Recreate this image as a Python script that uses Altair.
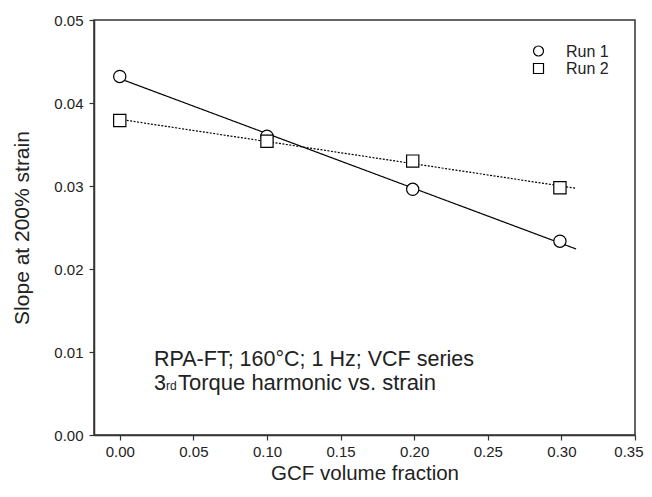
import altair as alt
import pandas as pd

# ---- data ----
runs = ["Run 1", "Run 2"]
run_shapes = ["circle", "square"]
gcf_fraction = [0.0, 0.1, 0.199, 0.299]
run1_slope = [0.0432, 0.0360, 0.0296, 0.02335]
run2_slope = [0.0379, 0.0354, 0.0330, 0.0298]
x_ticks = [0.0, 0.05, 0.10, 0.15, 0.20, 0.25, 0.30, 0.35]
y_ticks = [0.0, 0.01, 0.02, 0.03, 0.04, 0.05]
note_line1 = "RPA-FT; 160°C; 1 Hz; VCF series"
note_line2_num = "3"
note_line2_sup = "rd"
note_line2_rest = "Torque harmonic vs. strain"

rows = []
for xv, yv in zip(gcf_fraction, run1_slope):
    rows.append({"x": xv, "y": yv, "run": runs[0]})
for xv, yv in zip(gcf_fraction, run2_slope):
    rows.append({"x": xv, "y": yv, "run": runs[1]})
df = pd.DataFrame(rows)

FONT = "Liberation Sans"
INK = "#222222"

x_enc = alt.X(
    "x:Q",
    scale=alt.Scale(domain=[-0.0175, 0.35], nice=False, zero=False),
    axis=alt.Axis(
        values=x_ticks, format=".2f", title="GCF volume fraction",
        titleY=44, titleBaseline="alphabetic", titleFontSize=20.5, labelPadding=4,
        labelFlush=True, labelFlushOffset=8,
    ),
)
y_enc = alt.Y(
    "y:Q",
    scale=alt.Scale(domain=[0, 0.05], nice=False),
    axis=alt.Axis(
        values=y_ticks, format=".2f", title="Slope at 200% strain",
        titleX=-72, titleY=207.5, titleBaseline="middle", titleAnchor="middle",
        titleFontSize=21, labelPadding=6,
    ),
)

base = alt.Chart(df)

lines = base.transform_regression(
    "x", "y", groupby=["run"], extent=[0, 0.31]
).mark_line(color="black", strokeWidth=1.2).encode(
    x=x_enc,
    y=y_enc,
    strokeDash=alt.StrokeDash(
        "run:N",
        scale=alt.Scale(domain=runs, range=[[1, 0], [2, 1.5]]),
        legend=None,
    ),
)

points = base.mark_point(
    filled=True, fill="white", stroke="black", strokeWidth=1.2, size=150, opacity=1
).encode(
    x=x_enc,
    y=y_enc,
    shape=alt.Shape(
        "run:N",
        scale=alt.Scale(domain=runs, range=run_shapes),
        legend=None,
    ),
)

def note(text, px, py, size):
    return alt.Chart(pd.DataFrame({"t": [text]})).mark_text(
        align="left", baseline="alphabetic", fontSize=size, font=FONT, color=INK
    ).encode(text="t:N", x=alt.value(px), y=alt.value(py))

def key_symbol(shape, px, py):
    return alt.Chart(pd.DataFrame({"s": [shape]})).mark_point(
        filled=True, fill="white", stroke="black", strokeWidth=1.2, size=100, opacity=1
    ).encode(shape=alt.value(shape), x=alt.value(px), y=alt.value(py))

legend_layers = []
for i, (name, shp) in enumerate(zip(runs, run_shapes)):
    legend_layers.append(key_symbol(shp, 444.5, 31 + 17.5 * i))
    legend_layers.append(note(name, 472, 36.5 + 17.5 * i, 16))

t1 = note(note_line1, 60, 346, 21.5)
t2a = note(note_line2_num, 60, 370, 21.5)
t2b = note(note_line2_sup, 72, 370, 12)
t2c = note(note_line2_rest, 84, 370, 22)

chart = alt.layer(lines, points, t1, t2a, t2b, t2c, *legend_layers).properties(
    width=541, height=415,
    autosize=alt.AutoSizeParams(type="none"),
    padding={"left": 86, "top": 12, "right": 9, "bottom": 49},
).configure_view(
    stroke="#333333", strokeWidth=1.5
).configure_axis(
    grid=False, domainColor="#333333", domainWidth=1.5,
    tickColor="#333333", tickWidth=1.2, tickSize=5,
    labelFont=FONT, labelFontSize=15, labelColor=INK,
    titleFont=FONT, titleFontSize=21, titleColor=INK, titleFontWeight="normal",
)

chart.save("out.html", embed_options={"renderer": "svg", "actions": False})
